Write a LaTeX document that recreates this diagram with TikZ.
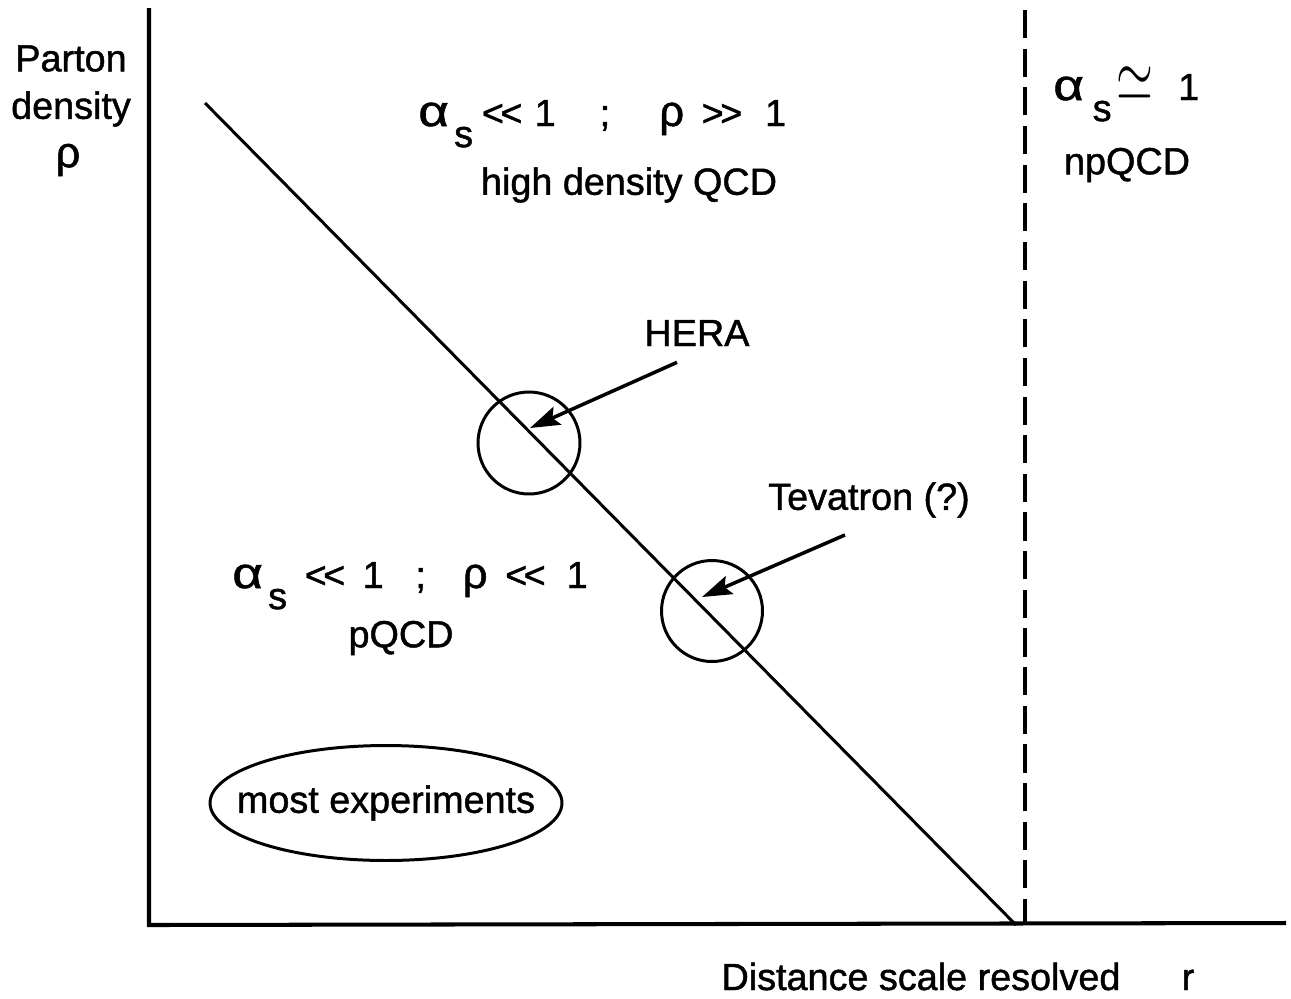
\documentclass[tikz,border=0pt]{standalone}
\usepackage{fontspec}
\setmainfont{Liberation Sans}[FakeBold=1.2]
\usetikzlibrary{arrows.meta,calc,shapes.geometric}

% greek letters of the scan are wide
\newcommand{\galpha}{\scalebox{1.4}[1.15]{α}}
\newcommand{\grho}{\scalebox{1.15}[1.15]{ρ}}
\newcommand{\alphas}{\galpha\kern3pt\raisebox{-12pt}{s}}
\newcommand{\mll}{<\kern-2pt<}
\newcommand{\mgg}{>\kern-2pt>}

\begin{document}
\begin{tikzpicture}[x=0.02cm, y=-0.02cm, >={Stealth[length=17pt, width=11pt, inset=3pt]},
    lbl/.style={font=\fontsize{21.5}{27}\selectfont, inner sep=0pt},
    axis/.style={line width=2.3pt},
    ring/.style={circle, draw, line width=1.7pt, inner sep=0pt}]
    \useasboundingbox (0,0) rectangle (1291,998);

    % Axes
    \coordinate (O) at (149,925);
    \coordinate (ytop) at (149,8);
    \coordinate (xend) at (1286,923);
    \draw[axis] (ytop) -- (O) -- (xend);

    % Density line and npQCD boundary
    \coordinate (lnA) at (205,103);
    \coordinate (lnB) at (1016,925);
    \draw[line width=1.7pt] (lnA) -- (lnB);
    \coordinate (dshA) at (1025,10);
    \coordinate (dshB) at (1025,925);
    \draw[line width=2pt, dash pattern=on 16pt off 6pt] (dshA) -- (dshB);

    % Axis labels
    \node[lbl, align=center] (ylbl) at (71,86) {Parton\\density};
    \node[lbl] (yrho) at (68,160) {\grho};
    \node[lbl, anchor=base] (xlbl) at (921,990) {Distance scale resolved};
    \node[lbl, anchor=base] (xr) at (1188,990) {r};

    % Regions
    \node[lbl, anchor=base west] (hiform) at (418,126)
        {\alphas\hspace{5pt}\mll\hspace{7pt}1\hspace{25pt};\hspace{28pt}\grho\hspace{10pt}\mgg\hspace{13pt}1};
    \node[lbl] (hitxt) at (629,185) {high density QCD};
    \node[lbl, anchor=base west] (loform) at (232,588)
        {\alphas\hspace{10pt}\mll\hspace{10pt}1\hspace{18pt};\hspace{21pt}\grho\hspace{10pt}\mll\hspace{12pt}1};
    \node[lbl] (lotxt) at (401,638) {pQCD};
    \node[lbl, anchor=base west] (npform) at (1053,100)
        {\galpha\kern5pt\raisebox{-12pt}{s}\kern3pt\scalebox{1.3}[2.0]{$\simeq$}\hspace{14pt}1};
    \node[lbl] (nptxt) at (1127,165) {npQCD};

    % Experiments
    \node[ring, minimum size=2.04cm] (heraC) at (529,443) {};
    \node[ring, minimum size=2.02cm] (tevC) at (712,611) {};
    \node[lbl] (heralbl) at (697,333) {HERA};
    \node[lbl] (tevlbl) at (869,500) {Tevatron (?)};
    \draw[->, line width=2pt] ($(heralbl.south)+(-20,16)$) -- ($(heraC.center)+(1,-15)$);
    \draw[->, line width=2pt] ($(tevlbl.south)+(-24,17)$) -- ($(tevC.center)+(-10,-14)$);

    \node[lbl] (most) at (386,803) {most experiments};
    \draw[line width=1.7pt] (most.center) ellipse [x radius=3.52cm, y radius=1.15cm];
\end{tikzpicture}
\end{document}
